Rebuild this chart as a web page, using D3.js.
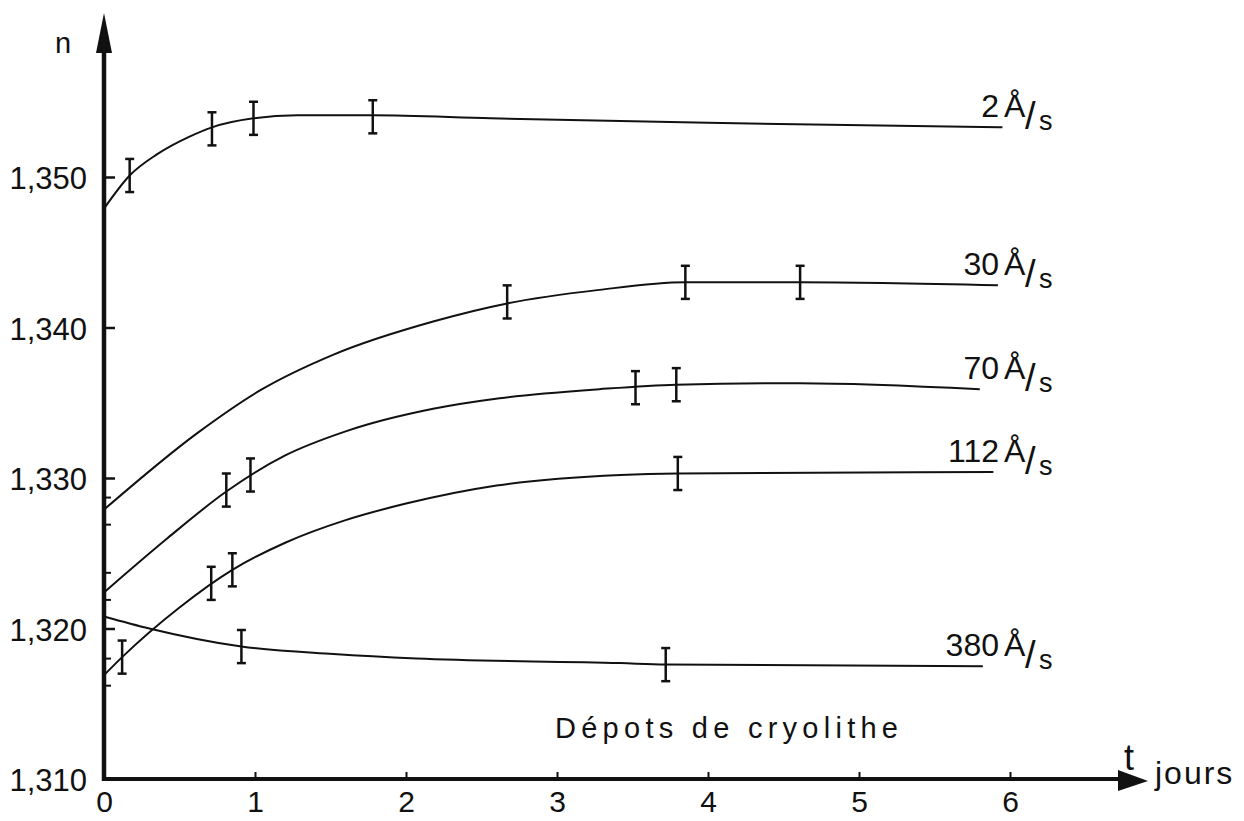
<!DOCTYPE html>
<html>
<head>
<meta charset="utf-8">
<script src="https://cdn.jsdelivr.net/npm/d3@7/dist/d3.min.js"></script>
<style>
  html, body { margin: 0; padding: 0; background: #fff; }
  svg { display: block; font-family: "Liberation Sans", Arial, sans-serif; }
</style>
</head>
<body>
<svg id="chart" width="1244" height="821"></svg>
<script>
// ---------- data ----------
const xTicks = [0, 1, 2, 3, 4, 5, 6];
const yTicks = [1.310, 1.320, 1.330, 1.340, 1.350];
const yMinorTicks = [1.3287, 1.3269, 1.3237, 1.3219, 1.3180, 1.3162];

const seriesNames = ["2", "30", "70", "112", "380"];

// fitted curves (t in days, n index)
const curveT2   = [0, 0.17, 0.35, 0.57, 0.715, 0.99, 1.28, 1.78, 2.56, 4.0, 5.95];
const curveN2   = [1.3479, 1.3501, 1.3515, 1.3527, 1.3533, 1.3539, 1.3541, 1.3541, 1.3539, 1.3536, 1.3533];
const curveT30  = [0, 0.62, 1.03, 1.52, 2.18, 2.67, 3.28, 3.85, 4.61, 5.92];
const curveN30  = [1.3279, 1.3330, 1.3358, 1.3382, 1.3404, 1.3416, 1.3425, 1.3430, 1.3430, 1.3428];
const curveT70  = [0, 0.42, 0.81, 1.2, 1.6, 2.18, 2.62, 3.28, 3.79, 4.61, 5.80];
const curveN70  = [1.3224, 1.3260, 1.3291, 1.3315, 1.3331, 1.3346, 1.3353, 1.3359, 1.3362, 1.3363, 1.3359];
const curveT112 = [0, 0.12, 0.5, 0.85, 1.2, 1.6, 2.0, 2.6, 3.42, 3.80, 5.89];
const curveN112 = [1.3169, 1.3181, 1.3214, 1.3239, 1.3257, 1.3272, 1.3283, 1.3295, 1.3302, 1.3303, 1.3304];
const curveT380 = [0, 0.30, 0.91, 1.52, 2.07, 3.42, 3.72, 5.82];
const curveN380 = [1.3208, 1.3200, 1.3188, 1.3183, 1.3180, 1.3177, 1.3176, 1.3175];

// measured points with error bars
const pointsT2   = [0.17, 0.715, 0.99, 1.78];
const pointsN2   = [1.3501, 1.3532, 1.3539, 1.3540];
const pointsT30  = [2.67, 3.85, 4.61];
const pointsN30  = [1.3417, 1.3430, 1.3430];
const pointsT70  = [0.81, 0.97, 3.52, 3.79];
const pointsN70  = [1.3292, 1.3302, 1.3360, 1.3362];
const pointsT112 = [0.12, 0.71, 0.85, 3.80];
const pointsN112 = [1.3181, 1.3230, 1.3239, 1.3303];
const pointsT380 = [0.91, 3.72];
const pointsN380 = [1.3188, 1.3176];
const errorN = 0.0011;

const curvesT = [curveT2, curveT30, curveT70, curveT112, curveT380];
const curvesN = [curveN2, curveN30, curveN70, curveN112, curveN380];
const pointsT = [pointsT2, pointsT30, pointsT70, pointsT112, pointsT380];
const pointsN = [pointsN2, pointsN30, pointsN70, pointsN112, pointsN380];

const yAxisTitle = "n";
const xAxisTitleT = "t";
const xAxisTitleUnit = "jours";
const noteText = "Dépots de cryolithe";

// ---------- layout ----------
const svg = d3.select("#chart");
const x = d3.scaleLinear().domain([0, 6]).range([104, 1010]);
const y = d3.scaleLinear().domain([1.310, 1.350]).range([779, 177]);
const ink = "#111";
const fontSize = 30;

// y axis (ticks inside)
const yAxis = d3.axisLeft(y).tickValues(yTicks).tickSizeInner(-11).tickSizeOuter(0).tickPadding(17)
  .tickFormat(d => d3.format(".3f")(d).replace(".", ","));
const gy = svg.append("g").attr("transform", `translate(${x(0)},0)`).call(yAxis);
gy.select(".domain").remove();
gy.selectAll(".tick line").attr("stroke", ink).attr("stroke-width", 2.5);
gy.selectAll(".tick text").attr("fill", ink).attr("font-size", 31).attr("dy", "0.38em")
  .attr("font-family", "Liberation Sans, Arial, sans-serif");
gy.selectAll(".tick").filter(d => d === 1.310).select("line").remove();

// minor ticks on y
svg.append("g").selectAll("line").data(yMinorTicks).join("line")
  .attr("x1", x(0)).attr("x2", x(0) + 7)
  .attr("y1", d => y(d)).attr("y2", d => y(d))
  .attr("stroke", ink).attr("stroke-width", 2);

// x axis (ticks pointing up)
const xAxis = d3.axisBottom(x).tickValues(xTicks).tickSizeInner(-7).tickSizeOuter(0).tickPadding(12)
  .tickFormat(d3.format("d"));
const gx = svg.append("g").attr("transform", `translate(0,${y(1.310)})`).call(xAxis);
gx.select(".domain").remove();
gx.selectAll(".tick line").attr("stroke", ink).attr("stroke-width", 2);
gx.selectAll(".tick").filter(d => d === 0).select("line").remove();
gx.selectAll(".tick text").attr("fill", ink).attr("font-size", fontSize)
  .attr("font-family", "Liberation Sans, Arial, sans-serif");

// axis lines with arrows
const x0 = x(0), y0 = y(1.310);
const yTop = 13, xRight = 1148;
svg.append("line").attr("x1", x0).attr("y1", y0 + 2).attr("x2", x0).attr("y2", yTop + 20)
  .attr("stroke", ink).attr("stroke-width", 4.5);
svg.append("path").attr("d", `M${x0},${yTop} L${x0 - 8},${yTop + 40} L${x0 + 8},${yTop + 40} Z`).attr("fill", ink);
svg.append("line").attr("x1", x0 - 2).attr("y1", y0).attr("x2", xRight - 20).attr("y2", y0)
  .attr("stroke", ink).attr("stroke-width", 4);
svg.append("path").attr("d", `M${xRight},${y0 + 2} L${xRight - 30},${y0 - 9} L${xRight - 30},${y0 + 12} Z`).attr("fill", ink);

// axis titles
svg.append("text").attr("x", 55).attr("y", 53).attr("font-size", 29).attr("fill", ink).text(yAxisTitle);
svg.append("text").attr("x", 1124).attr("y", 770).attr("font-size", 36).attr("fill", ink).text(xAxisTitleT);
svg.append("text").attr("x", 1155).attr("y", 784).attr("font-size", 32).attr("letter-spacing", 2)
  .attr("fill", ink).text(xAxisTitleUnit);

// note
svg.append("text").attr("x", 555).attr("y", 738).attr("font-size", 29).attr("fill", ink)
  .attr("textLength", 343).attr("lengthAdjust", "spacing").text(noteText);

// curves
const line = d3.line().x(d => x(d[0])).y(d => y(d[1])).curve(d3.curveMonotoneX);
seriesNames.forEach((name, i) => {
  const pts = curvesT[i].map((t, j) => [t, curvesN[i][j]]);
  svg.append("path").datum(pts).attr("d", line)
    .attr("fill", "none").attr("stroke", ink).attr("stroke-width", 2);

  // error bars
  const eb = svg.append("g");
  const bars = pointsT[i].map((t, j) => [t, pointsN[i][j]]);
  eb.selectAll("line.v").data(bars).join("line").attr("class", "v")
    .attr("x1", d => x(d[0])).attr("x2", d => x(d[0]))
    .attr("y1", d => y(d[1] + errorN)).attr("y2", d => y(d[1] - errorN))
    .attr("stroke", ink).attr("stroke-width", 2.5);
  ["top", "bot"].forEach(k => {
    eb.selectAll("line." + k).data(bars).join("line").attr("class", k)
      .attr("x1", d => x(d[0]) - 4.5).attr("x2", d => x(d[0]) + 4.5)
      .attr("y1", d => y(d[1] + (k === "top" ? errorN : -errorN)))
      .attr("y2", d => y(d[1] + (k === "top" ? errorN : -errorN)))
      .attr("stroke", ink).attr("stroke-width", 2.5);
  });

  // label at end
  const endN = curvesN[i][curvesN[i].length - 1];
  const base = y(endN) - 10;
  const lab = svg.append("g").attr("fill", ink);
  lab.append("text").attr("x", 999).attr("y", base).attr("font-size", 32)
    .attr("text-anchor", "end").text(name);
  lab.append("text").attr("x", 1004).attr("y", base).attr("font-size", 32).text("Å");
  lab.append("text").attr("x", 1025).attr("y", base + 12).attr("font-size", 38).text("/");
  lab.append("text").attr("x", 1039).attr("y", base + 13).attr("font-size", 27).text("s");
});
</script>
</body>
</html>
